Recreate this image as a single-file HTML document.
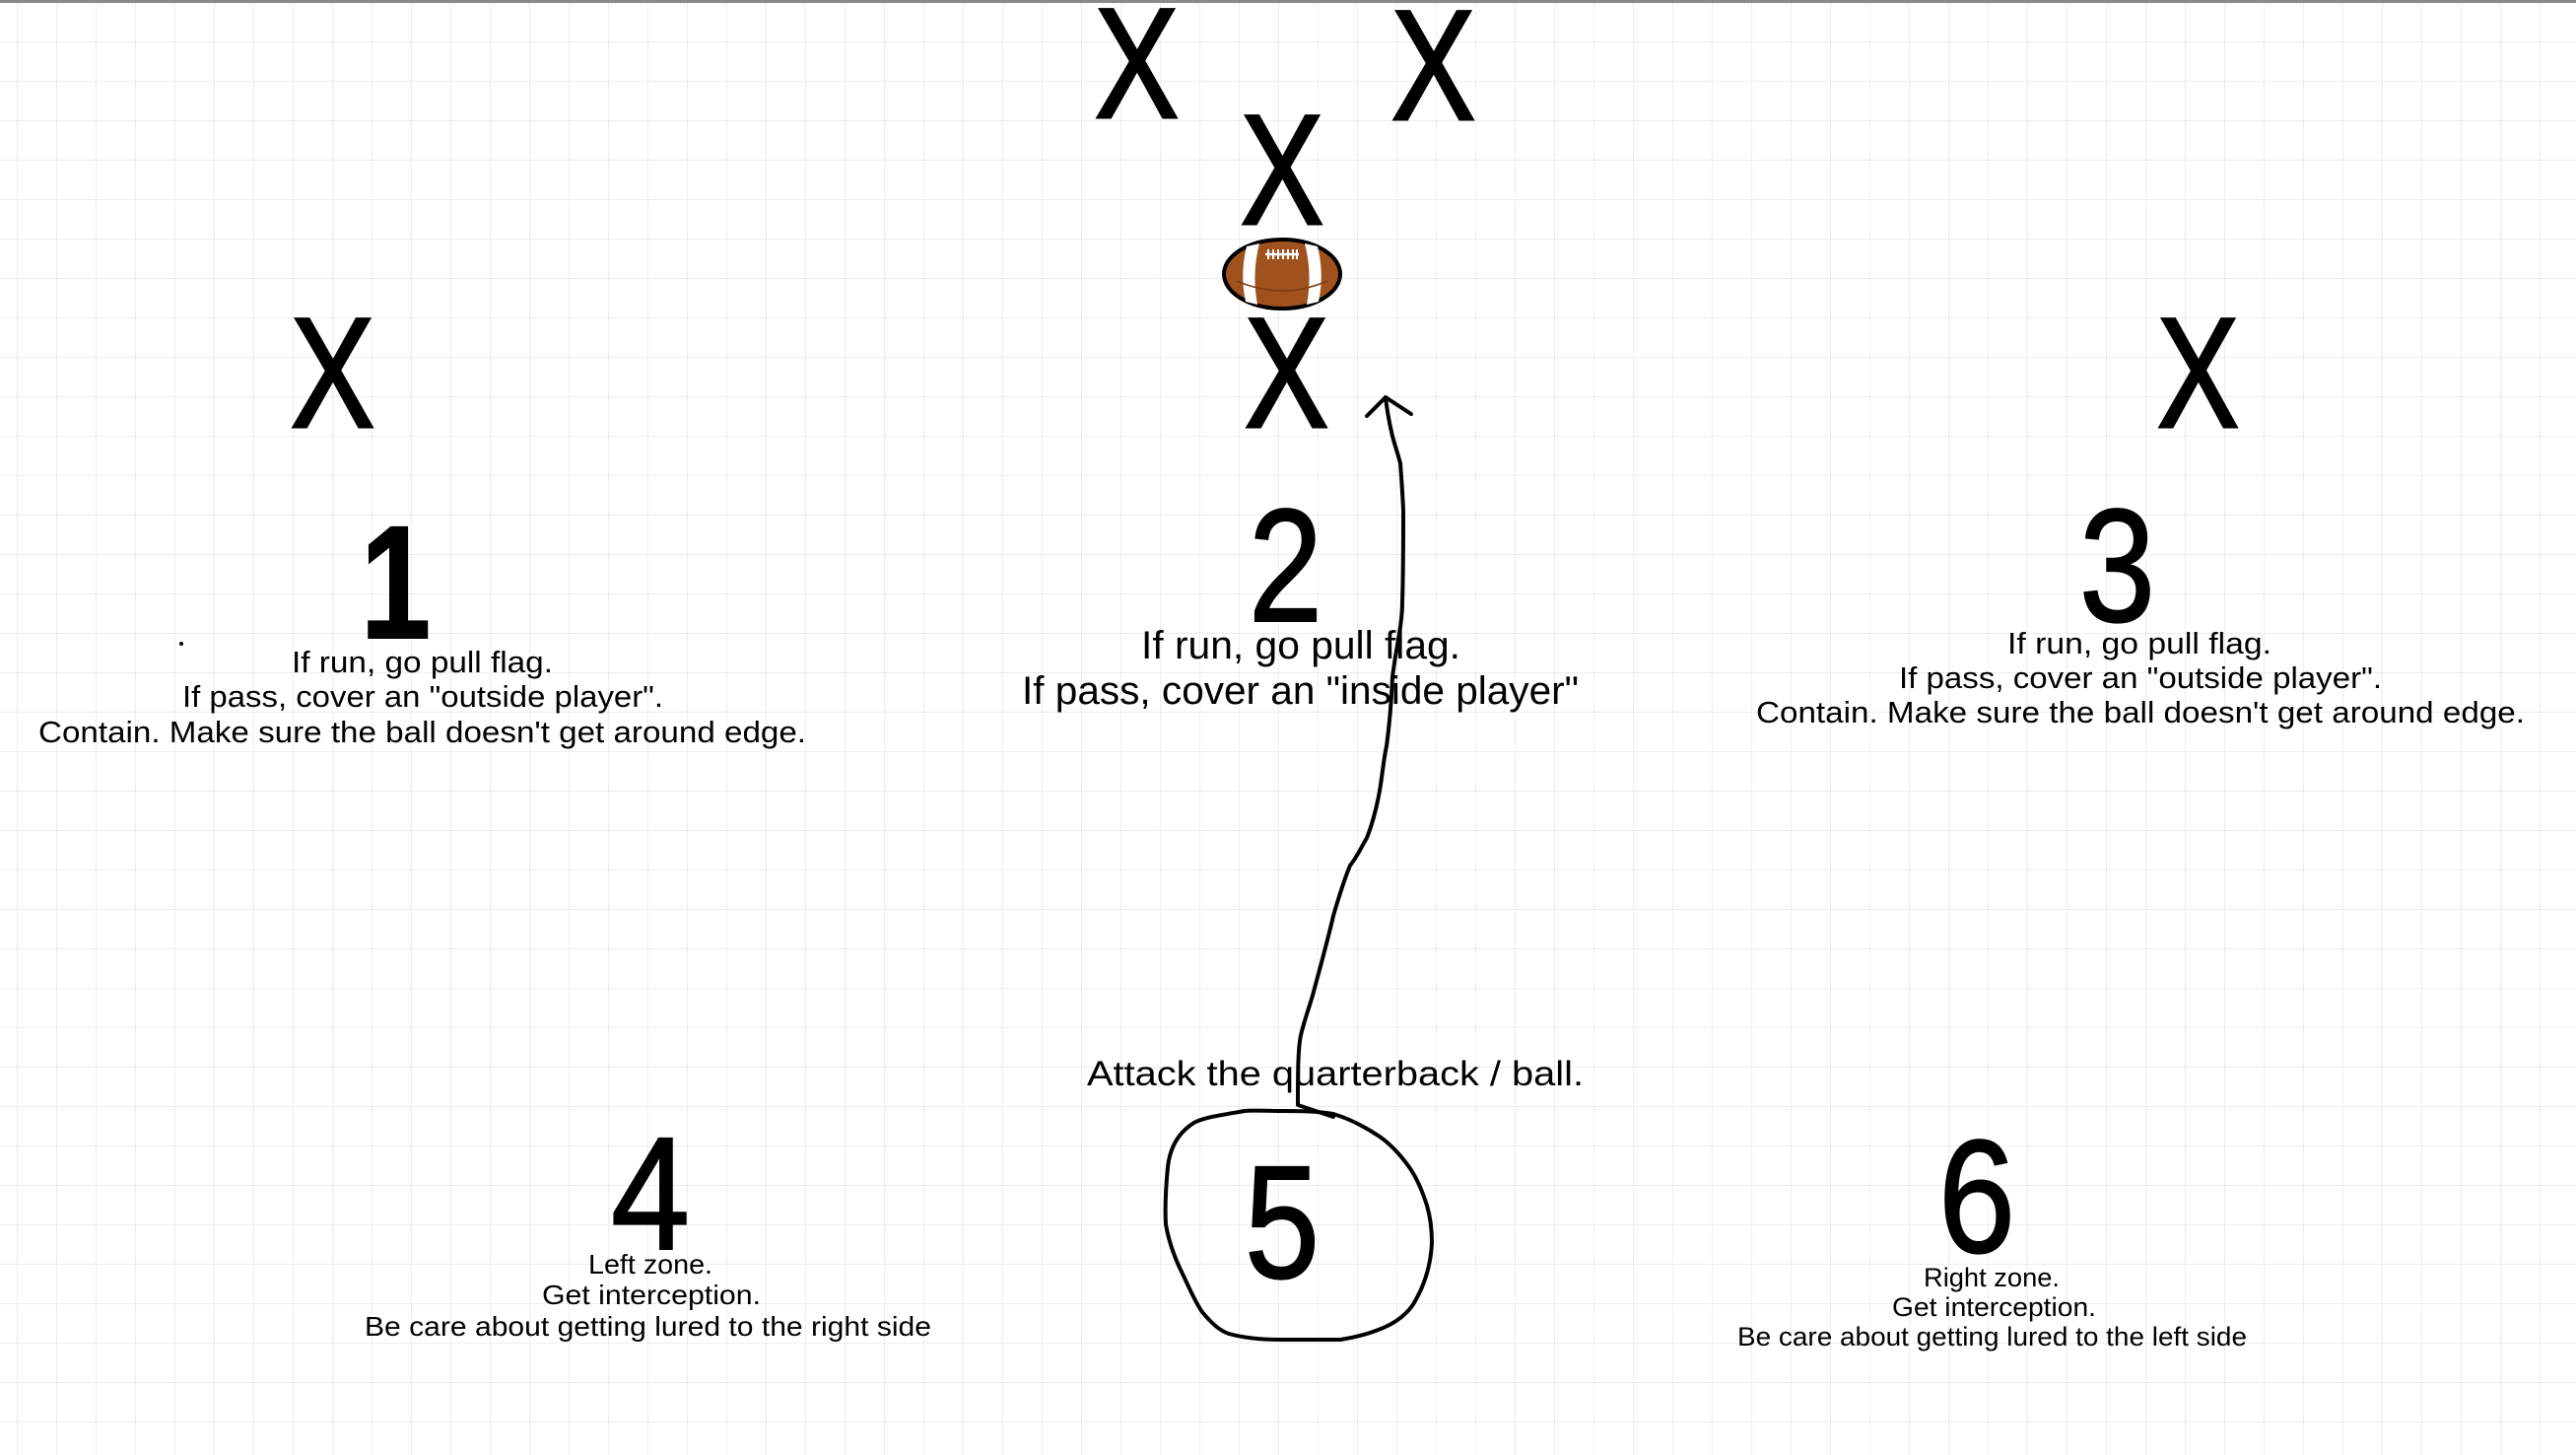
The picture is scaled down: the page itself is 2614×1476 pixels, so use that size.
<!DOCTYPE html>
<html><head><meta charset="utf-8"><style>
html,body{margin:0;padding:0;background:#fff;}
svg{display:block;}
text{font-family:"Liberation Sans",sans-serif;fill:#000;}
</style></head><body>
<svg width="2614" height="1476" viewBox="0 0 2614 1476" xmlns="http://www.w3.org/2000/svg">
<defs>
<pattern id="g" x="17" y="2" width="40" height="40" patternUnits="userSpaceOnUse">
<path d="M0 0H40M0 0V40" stroke="#e9e9e9" stroke-width="1.5" fill="none"/>
</pattern>
</defs>
<rect width="2614" height="1476" fill="#fff"/>
<rect width="2614" height="1476" fill="url(#g)"/>
<rect x="0" y="0" width="2614" height="3" fill="#8a8a8a"/>

<!-- X players -->
<g font-size="159" stroke="#000" stroke-width="3">
<text x="1111" y="119" textLength="85" lengthAdjust="spacingAndGlyphs">X</text>
<text x="1412" y="121" textLength="85" lengthAdjust="spacingAndGlyphs">X</text>
<text x="1259" y="227" textLength="84" lengthAdjust="spacingAndGlyphs">X</text>
<text x="1263" y="433" textLength="85" lengthAdjust="spacingAndGlyphs">X</text>
<text x="295" y="433" textLength="85" lengthAdjust="spacingAndGlyphs">X</text>
<text x="2189" y="433" textLength="83" lengthAdjust="spacingAndGlyphs">X</text>
</g>

<!-- football -->
<g>
<ellipse cx="1301" cy="278" rx="59" ry="35" fill="#a0521e" stroke="#000" stroke-width="4"/>
<path d="M1265 250 Q1258 278 1264 306 L1276 309 Q1270 278 1278 247 Z" fill="#fff"/>
<path d="M1337 250 Q1344 278 1338 306 L1326 309 Q1332 278 1324 247 Z" fill="#fff"/>
<path d="M1255 285 Q1301 305 1347 285" stroke="#7a3b12" stroke-width="1.5" fill="none"/>
<line x1="1284" y1="258" x2="1318" y2="258" stroke="#fff" stroke-width="2.5"/>
<g stroke="#fff" stroke-width="2">
<line x1="1287" y1="253" x2="1287" y2="263"/><line x1="1292" y1="253" x2="1292" y2="263"/>
<line x1="1297" y1="253" x2="1297" y2="263"/><line x1="1302" y1="253" x2="1302" y2="263"/>
<line x1="1307" y1="253" x2="1307" y2="263"/><line x1="1312" y1="253" x2="1312" y2="263"/>
<line x1="1316" y1="253" x2="1316" y2="263"/>
</g>
</g>

<!-- digits -->
<g font-size="163" stroke="#000" stroke-width="2">
<text x="366" y="647" textLength="71" lengthAdjust="spacingAndGlyphs" font-weight="bold">1</text>
<text x="1267" y="630" textLength="75" lengthAdjust="spacingAndGlyphs">2</text>
<text x="2110" y="630" textLength="77" lengthAdjust="spacingAndGlyphs">3</text>
<text x="620" y="1267" textLength="80" lengthAdjust="spacingAndGlyphs">4</text>
<text x="1263" y="1296" textLength="76" lengthAdjust="spacingAndGlyphs">5</text>
<text x="1967" y="1270" textLength="78" lengthAdjust="spacingAndGlyphs">6</text>
</g>

<!-- group 1 text -->
<circle cx="184" cy="653" r="2" fill="#000"/>
<g font-size="31">
<text x="296" y="682" textLength="265" lengthAdjust="spacingAndGlyphs">If run, go pull flag.</text>
<text x="185" y="717" textLength="488" lengthAdjust="spacingAndGlyphs">If pass, cover an "outside player".</text>
<text x="39" y="753" textLength="779" lengthAdjust="spacingAndGlyphs">Contain. Make sure the ball doesn't get around edge.</text>
</g>
<!-- group 2 text -->
<g font-size="40">
<text x="1158" y="668" textLength="324" lengthAdjust="spacingAndGlyphs">If run, go pull flag.</text>
<text x="1037" y="714" textLength="565" lengthAdjust="spacingAndGlyphs">If pass, cover an "inside player"</text>
</g>
<!-- group 3 text -->
<g font-size="31">
<text x="2037" y="663" textLength="268" lengthAdjust="spacingAndGlyphs">If run, go pull flag.</text>
<text x="1927" y="698" textLength="490" lengthAdjust="spacingAndGlyphs">If pass, cover an "outside player".</text>
<text x="1782" y="733" textLength="780" lengthAdjust="spacingAndGlyphs">Contain. Make sure the ball doesn't get around edge.</text>
</g>
<!-- attack -->
<text x="1103" y="1101" font-size="35" textLength="504" lengthAdjust="spacingAndGlyphs">Attack the quarterback / ball.</text>
<!-- group 4 -->
<g font-size="28">
<text x="597" y="1292" textLength="126" lengthAdjust="spacingAndGlyphs">Left zone.</text>
<text x="550" y="1323" textLength="222" lengthAdjust="spacingAndGlyphs">Get interception.</text>
<text x="370" y="1355" textLength="575" lengthAdjust="spacingAndGlyphs">Be care about getting lured to the right side</text>
</g>
<!-- group 6 -->
<g font-size="27">
<text x="1952" y="1305" textLength="138" lengthAdjust="spacingAndGlyphs">Right zone.</text>
<text x="1920" y="1335" textLength="207" lengthAdjust="spacingAndGlyphs">Get interception.</text>
<text x="1763" y="1365" textLength="517" lengthAdjust="spacingAndGlyphs">Be care about getting lured to the left side</text>
</g>

<!-- hand-drawn path -->
<g fill="none" stroke="#000" stroke-width="4" stroke-linecap="round" stroke-linejoin="round">
<path d="M1387 422 L1406 403 L1432 420"/>
<path d="M1353 1133 L1317 1121 C1317 1090 1317 1065 1320 1050 C1325 1030 1330 1018 1333 1006 C1340 980 1347 955 1353 929 C1360 905 1365 890 1370 878 C1378 868 1382 858 1387 850 C1395 830 1400 805 1402 789 C1404 775 1405 765 1407 757 C1410 735 1412 710 1413 687 C1416 660 1423 635 1423 610 C1424 580 1424 545 1424 518 C1423 495 1422 485 1421 470 C1417 455 1414 448 1412 438 C1409 425 1407 412 1406 403"/>
<path d="M1263 1127 C1240 1131 1218 1134 1210 1140 C1195 1150 1187 1165 1185 1184 C1183 1205 1182 1225 1183 1242 C1186 1260 1192 1275 1197 1286 C1205 1302 1212 1320 1220 1331 C1230 1343 1238 1350 1247 1353 C1265 1358 1285 1359 1300 1359 C1320 1359 1340 1359 1360 1359 C1380 1356 1398 1350 1410 1344 C1423 1337 1432 1328 1437 1318 C1447 1300 1452 1280 1453 1261 C1453 1245 1451 1233 1448 1223 C1443 1207 1437 1194 1430 1184 C1420 1170 1410 1160 1400 1153 C1385 1143 1370 1135 1353 1130 C1335 1127 1318 1127 1300 1127 C1285 1127 1273 1126 1263 1127 Z"/>
</g>
</svg>
</body></html>
